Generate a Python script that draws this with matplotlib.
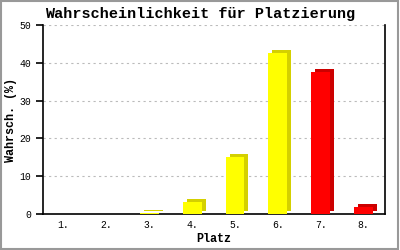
import matplotlib
matplotlib.use("Agg")
import matplotlib.pyplot as plt
import matplotlib.transforms as mtransforms
from matplotlib.patches import Rectangle

# Daten
plaetze = ["1.", "2.", "3.", "4.", "5.", "6.", "7.", "8."]
wahrsch = [0.0, 0.0, 0.3, 3.3, 15.0, 42.5, 37.5, 1.9]
farben = ["#FFFF00"] * 6 + ["#FF0000"] * 2
schatten = ["#D4D000"] * 6 + ["#CC0000"] * 2

plt.rcParams["font.family"] = ["Liberation Mono", "DejaVu Sans Mono"]

fig = plt.figure(figsize=(4, 2.5), dpi=100)
ax = fig.add_axes([0.1075, 0.144, 0.855, 0.756])

x = list(range(len(plaetze)))
breite = 0.44

# Schatten (3D-Effekt): gleiche Balken, nach rechts oben verschoben
versatz = mtransforms.ScaledTranslation(4 / 100, 3 / 100, fig.dpi_scale_trans)
ax.bar(x, wahrsch, breite, color=schatten, zorder=2,
       transform=ax.transData + versatz)
ax.bar(x, wahrsch, breite, color=farben, zorder=3)

ax.set_xlim(-0.48, 7.5)
ax.set_ylim(0, 50)
ax.set_yticks([0, 10, 20, 30, 40, 50])
ax.set_xticks(x)
ax.set_xticklabels(plaetze)
ax.tick_params(axis="x", length=0, labelsize=7, pad=4)
ax.tick_params(axis="y", length=5, width=1.2, labelsize=7, direction="out")
ax.yaxis.grid(True, linestyle=(0, (2, 3)), color="#BBBBBB", linewidth=0.8, zorder=0)
ax.set_axisbelow(True)

for s in ["left", "bottom", "right"]:
    ax.spines[s].set_linewidth(1.2)
    ax.spines[s].set_color("black")
ax.spines["top"].set_visible(False)

ax.set_xlabel("Platz", fontsize=8.5, fontweight="bold", va="center")
ax.xaxis.set_label_coords(0.5, -0.132)
ax.set_ylabel("Wahrsch. (%)", fontsize=8.5, fontweight="bold", va="center")
ax.yaxis.set_label_coords(-0.094, 0.5)
fig.text(0.5, 0.945, "Wahrscheinlichkeit für Platzierung", ha="center",
         va="center", fontsize=10.9, fontweight="bold")

# grauer Rahmen
fig.patches.append(Rectangle((0.002, 0.003), 0.994, 0.994, transform=fig.transFigure,
                             fill=False, edgecolor="#999999", linewidth=1.5))

fig.savefig("out.png", dpi=100)
